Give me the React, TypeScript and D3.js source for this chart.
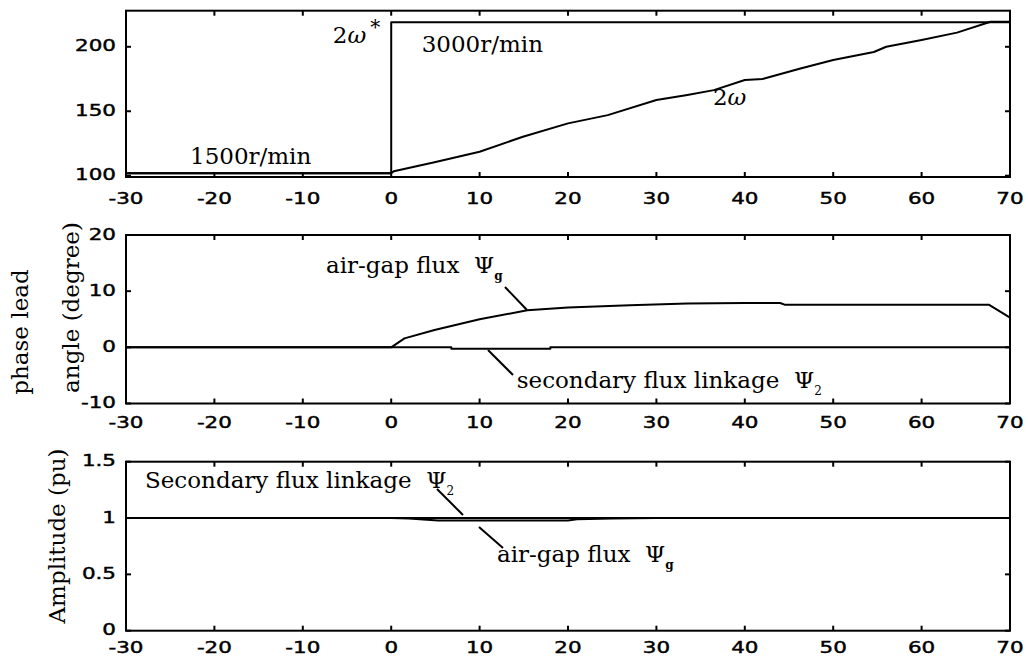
import React from "react";
import * as d3 from "d3";

// ---- data ----
const xTicks = [-30, -20, -10, 0, 10, 20, 30, 40, 50, 60, 70];

// top panel: speed (2ω* reference and 2ω actual)
const speedRefT = [-30, 0, 0, 70];
const speedRefV = [102, 102, 219, 219];
const speedT = [-30, 0, 0.3, 4.9, 10, 14.9, 20, 24.5, 30, 33.5, 36.5, 40, 42, 46.3, 50, 54.6, 56, 60, 64, 67.8, 70];
const speedV = [102, 102, 103.5, 110.4, 118.6, 130.2, 140.6, 147, 158.7, 162.6, 166.4, 174.2, 175, 183.2, 189.7, 196, 200, 205.2, 211, 219.4, 219.4];
const speedTicks = [100, 150, 200];

// middle panel: phase lead angle (degree)
const phaseAirT = [-30, 0, 1.5, 4.9, 10, 15.4, 20, 27, 33.5, 40, 44, 44.5, 67.6, 70];
const phaseAirV = [0, 0, 1.6, 3.1, 5.0, 6.6, 7.1, 7.5, 7.8, 7.9, 7.9, 7.6, 7.6, 5.3];
const phaseSecT = [-30, 6.8, 6.8, 18, 18, 70];
const phaseSecV = [0, 0, -0.25, -0.25, 0, 0];
const phaseTicks = [-10, 0, 10, 20];

// bottom panel: amplitude (pu)
const ampSecT = [-30, 70];
const ampSecV = [1, 1];
const ampAirT = [-30, 0, 2, 5.3, 20, 21, 25, 30, 70];
const ampAirV = [1, 1, 0.995, 0.978, 0.978, 0.99, 0.995, 1, 1];
const ampTicks = [0, 0.5, 1, 1.5];
const ampTickLabels = ["0", "0.5", "1", "1.5"];

const W = 1028;
const H = 668;
const LEFT = 126;
const RIGHT = 1010;

const SERIF = "'DejaVu Serif', serif";
const SANS = "'DejaVu Sans', sans-serif";

const x = d3.scaleLinear().domain([-30, 70]).range([LEFT, RIGHT]);

type PanelProps = {
  top: number;
  bottom: number;
  domain: [number, number];
  ticks: number[];
  tickLabels?: string[];
  xLabelOffset: number;
  series: { t: number[]; v: number[] }[];
  children?: (y: d3.ScaleLinear<number, number>) => React.ReactNode;
};

function Panel({ top, bottom, domain, ticks, tickLabels, xLabelOffset, series, children }: PanelProps) {
  const y = d3.scaleLinear().domain(domain).range([bottom, top]);
  const line = d3
    .line<[number, number]>()
    .x((d) => x(d[0]))
    .y((d) => y(d[1]));
  const tl = 5;
  return (
    <g>
      {series.map((s, i) => (
        <path
          key={i}
          d={line(s.t.map((t, j) => [t, s.v[j]] as [number, number])) || ""}
          fill="none"
          stroke="#000"
          strokeWidth={2}
          strokeLinejoin="round"
        />
      ))}
      <rect x={LEFT} y={top} width={RIGHT - LEFT} height={bottom - top} fill="none" stroke="#000" strokeWidth={2} />
      {xTicks.map((t) => (
        <g key={"x" + t}>
          <line x1={x(t)} x2={x(t)} y1={bottom} y2={bottom - tl} stroke="#000" strokeWidth={2} />
          <line x1={x(t)} x2={x(t)} y1={top} y2={top + tl} stroke="#000" strokeWidth={2} />
          <text
            transform={`translate(${x(t)},${bottom + xLabelOffset}) scale(1.3,1)`}
            textAnchor="middle"
            dominantBaseline="central"
            fontFamily={SANS}
            fontSize={16.5}
            fill="#000"
            stroke="#000"
            strokeWidth={0.45}
          >
            {t}
          </text>
        </g>
      ))}
      {ticks.map((t, i) => (
        <g key={"y" + t}>
          <line x1={LEFT} x2={LEFT + tl} y1={y(t)} y2={y(t)} stroke="#000" strokeWidth={2} />
          <line x1={RIGHT} x2={RIGHT - tl} y1={y(t)} y2={y(t)} stroke="#000" strokeWidth={2} />
          <text
            transform={`translate(116,${y(t) - 1}) scale(1.3,1)`}
            textAnchor="end"
            dominantBaseline="central"
            fontFamily={SANS}
            fontSize={16.5}
            fill="#000"
            stroke="#000"
            strokeWidth={0.45}
          >
            {tickLabels ? tickLabels[i] : t}
          </text>
        </g>
      ))}
      {children && children(y)}
    </g>
  );
}

function Pointer({ y, a, b }: { y: d3.ScaleLinear<number, number>; a: [number, number]; b: [number, number] }) {
  return <line x1={x(a[0])} y1={y(a[1])} x2={x(b[0])} y2={y(b[1])} stroke="#000" strokeWidth={2} />;
}

function Psi({ sub, bold }: { sub: string; bold?: boolean }) {
  return (
    <>
      <tspan>Ψ</tspan>
      <tspan dy={7} fontSize={12} fontWeight={bold ? "bold" : "normal"}>
        {sub}
      </tspan>
    </>
  );
}

export default function App() {
  return (
    <svg width={W} height={H} style={{ position: "absolute", left: 0, top: 0, background: "#fff" }}>
      <rect x={0} y={0} width={W} height={H} fill="#fff" />
      <g fontFamily={SERIF} fontSize={23} fill="#000">
        {/* top panel */}
        <Panel
          top={10.7}
          bottom={177}
          domain={[99, 228]}
          ticks={speedTicks}
          xLabelOffset={21}
          series={[
            { t: speedRefT, v: speedRefV },
            { t: speedT, v: speedV },
          ]}
        >
          {(y) => (
            <g fontFamily={SERIF} fontSize={23}>
              <text x={x(-22.76)} y={y(109.1)}>1500r/min</text>
              <text x={x(-6.6)} y={y(203)}>
                2<tspan fontStyle="italic">ω</tspan>
                <tspan dx={4} dy={-9} fontSize={20}>*</tspan>
              </text>
              <text x={x(3.45)} y={y(196)}>3000r/min</text>
              <text x={x(36.4)} y={y(154.9)}>
                2<tspan fontStyle="italic">ω</tspan>
              </text>
            </g>
          )}
        </Panel>

        {/* middle panel */}
        <Panel
          top={235}
          bottom={403.5}
          domain={[-10, 20]}
          ticks={phaseTicks}
          xLabelOffset={19}
          series={[
            { t: phaseAirT, v: phaseAirV },
            { t: phaseSecT, v: phaseSecV },
          ]}
        >
          {(y) => (
            <g fontFamily={SERIF} fontSize={23}>
              <text x={x(-7.38)} y={y(13.23)}>
                air-gap flux{"\u00a0\u00a0"}
                <Psi sub="g" bold />
              </text>
              <Pointer y={y} a={[12.87, 10.74]} b={[15.36, 6.65]} />
              <text x={x(14.2)} y={y(-7.24)}>
                secondary flux linkage{"\u00a0\u00a0"}
                <Psi sub="2" />
              </text>
              <Pointer y={y} a={[10.95, -0.47]} b={[13.78, -4.93]} />
            </g>
          )}
        </Panel>

        {/* bottom panel */}
        <Panel
          top={461.7}
          bottom={630.7}
          domain={[0, 1.5]}
          ticks={ampTicks}
          tickLabels={ampTickLabels}
          xLabelOffset={17}
          series={[
            { t: ampSecT, v: ampSecV },
            { t: ampAirT, v: ampAirV },
          ]}
        >
          {(y) => (
            <g fontFamily={SERIF} fontSize={23}>
              <text x={x(-27.85)} y={y(1.267)}>
                Secondary flux linkage{"\u00a0\u00a0"}
                <Psi sub="2" />
              </text>
              <Pointer y={y} a={[5.18, 1.258]} b={[8.12, 1.027]} />
              <text x={x(11.97)} y={y(0.61)}>
                air-gap flux{"\u00a0\u00a0"}
                <Psi sub="g" bold />
              </text>
              <Pointer y={y} a={[9.93, 0.92]} b={[12.65, 0.734]} />
            </g>
          )}
        </Panel>

        {/* y axis titles */}
        <text transform="translate(28,332) rotate(-90)" textAnchor="middle">phase lead</text>
        <text transform="translate(79,307.5) rotate(-90)" textAnchor="middle">angle (degree)</text>
        <text transform="translate(65,536) rotate(-90)" textAnchor="middle">Amplitude (pu)</text>
      </g>
    </svg>
  );
}
